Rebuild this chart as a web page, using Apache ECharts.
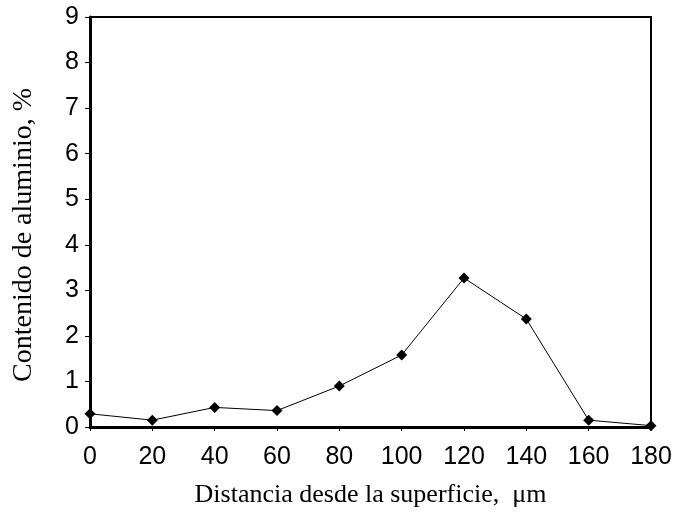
<!DOCTYPE html>
<html lang="es">
<head>
  <meta charset="UTF-8">
  <title>aluminio</title>
  <script src="https://cdn.jsdelivr.net/npm/echarts@6/dist/echarts.min.js"></script>
  <style>
    *{margin:0;padding:0;}
    body{background:#fff;}
    #chart{width:675px;height:516px;}
  </style>
</head>
<body>
  <div id="chart"></div>
  <script type="text/javascript">
    // distancia (um) y contenido de aluminio (%)
    var distancia = [0, 20, 40, 60, 80, 100, 120, 140, 160, 180]
    var aluminio = [0.29, 0.15, 0.43, 0.36, 0.90, 1.58, 3.27, 2.37, 0.15, 0.03]

    var chart = echarts.init(document.getElementById('chart'))
    var option = {
      animation: false,
      backgroundColor: '#fff',
      grid: {
        left: 90, top: 17, right: 24, bottom: 89,
        show: true, borderColor: '#000', borderWidth: 2, backgroundColor: 'transparent'
      },
      xAxis: {
        type: 'value',
        min: 0, max: 180, interval: 20,
        name: 'Distancia desde la superficie,  \u03bcm',
        nameLocation: 'middle',
        nameGap: 55,
        nameTextStyle: { fontFamily: 'Liberation Serif', fontSize: 26, color: '#000' },
        axisLine: { lineStyle: { color: '#000', width: 3 } },
        axisTick: { show: true, length: 4, lineStyle: { color: '#000' } },
        axisLabel: { fontFamily: 'Liberation Sans', fontSize: 25, color: '#000', margin: 18 },
        splitLine: { show: false }
      },
      yAxis: {
        type: 'value',
        min: 0, max: 9, interval: 1,
        name: 'Contenido de aluminio, %',
        nameLocation: 'middle',
        nameGap: 52,
        nameTextStyle: { fontFamily: 'Liberation Serif', fontSize: 28, color: '#000', padding: [0, 26, 0, 0] },
        axisLine: { show: true, lineStyle: { color: '#000', width: 3 } },
        axisTick: { show: true, length: 5, lineStyle: { color: '#000' } },
        axisLabel: { fontFamily: 'Liberation Sans', fontSize: 25, color: '#000', margin: 11 },
        splitLine: { show: false }
      },
      series: [{
        type: 'line',
        data: distancia.map(function (d, i) { return [d, aluminio[i]] }),
        symbol: 'diamond',
        symbolSize: 11,
        itemStyle: { color: '#000' },
        lineStyle: { color: '#000', width: 1 }
      }]
    }
    chart.setOption(option)
  </script>
</body>
</html>
